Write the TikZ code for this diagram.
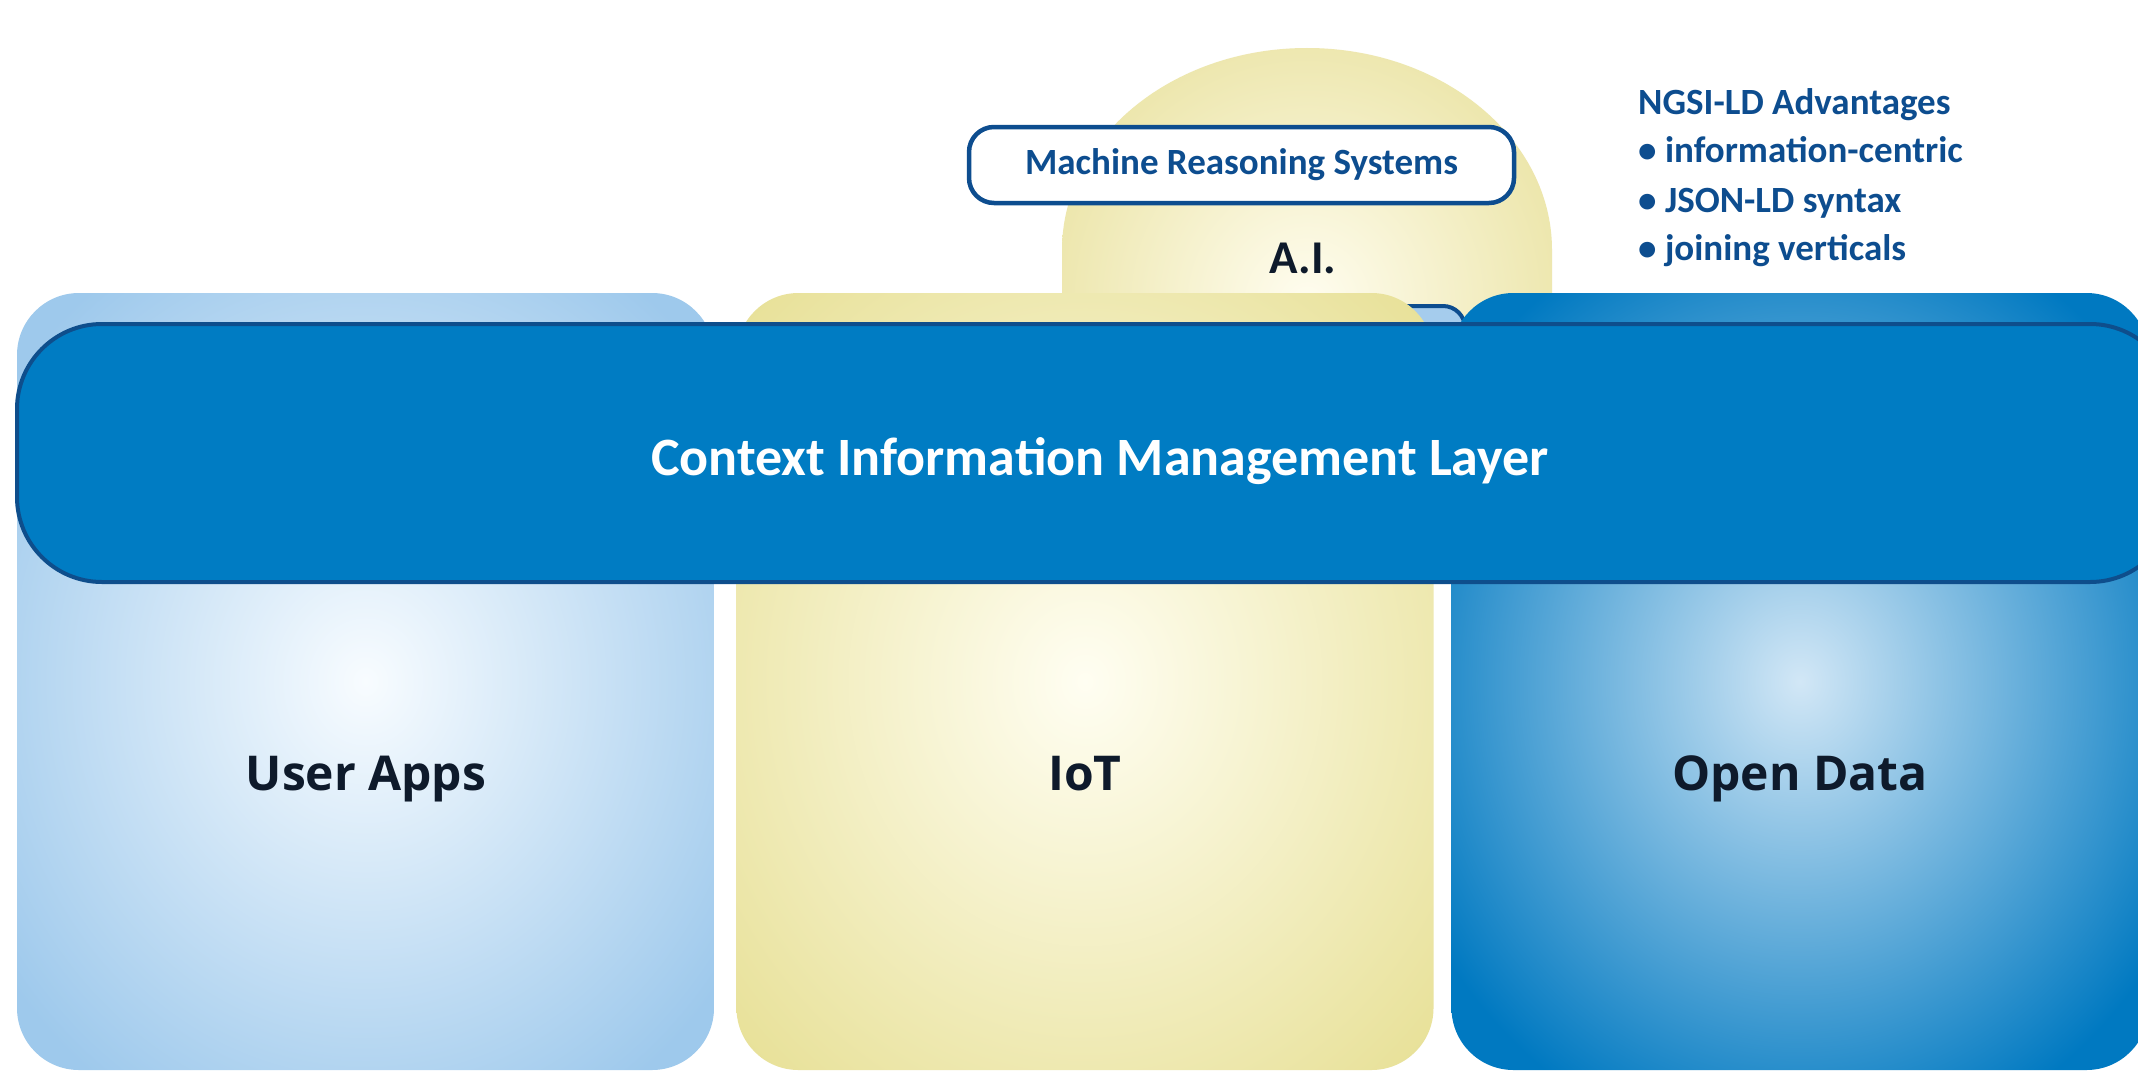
\documentclass[tikz,border=0pt]{standalone}
\usepackage{fontspec}
\setmainfont{Carlito}
\newfontfamily\labfont{Open Sans}
\definecolor{lbEdge}{RGB}{158,201,236}
\definecolor{lbMid}{RGB}{248,252,255}
\definecolor{yEdge}{RGB}{232,225,153}
\definecolor{yMid}{RGB}{255,254,242}
\definecolor{eggEdge}{RGB}{230,222,148}
\definecolor{eggMid}{RGB}{255,253,240}
\definecolor{rbEdge}{RGB}{0,121,193}
\definecolor{rbMid}{RGB}{210,231,246}
\definecolor{layerFill}{RGB}{0,124,195}
\definecolor{layerLine}{RGB}{14,78,140}
\definecolor{txtBlue}{RGB}{13,77,143}
\definecolor{txtNavy}{RGB}{14,26,43}
\definecolor{tabFill}{RGB}{165,204,237}
\pgfdeclareradialshading{shLB}{\pgfpointorigin}{color(0bp)=(lbMid); color(32bp)=(lbEdge); color(75bp)=(lbEdge)}
\pgfdeclareradialshading{shY}{\pgfpointorigin}{color(0bp)=(yMid); color(34bp)=(yEdge); color(75bp)=(yEdge)}
\pgfdeclareradialshading{shRB}{\pgfpointorigin}{color(0bp)=(rbMid); color(31bp)=(rbEdge); color(75bp)=(rbEdge)}
\pgfdeclareradialshading{shEgg}{\pgfpointorigin}{color(0bp)=(eggMid); color(36bp)=(eggEdge); color(75bp)=(eggEdge)}
\tikzset{
  bigbox/.style={rectangle, rounded corners=62pt, minimum width=697pt, minimum height=777pt, inner sep=0pt, draw=none},
  lbl/.style={font=\labfont\bfseries\fontsize{48}{56}\selectfont, text=txtNavy, inner sep=0pt},
  layerbox/.style={rectangle, rounded corners=85pt, minimum width=2158pt, minimum height=258pt, inner sep=0pt,
    fill=layerFill, draw=layerLine, line width=4pt},
  layertext/.style={text=white, inner sep=0pt, font=\bfseries\fontsize{54}{62}\selectfont},
  mrsbox/.style={rectangle, rounded corners=25pt, minimum width=545pt, minimum height=76pt, inner sep=0pt,
    fill=white, draw=txtBlue, line width=4.5pt, text=txtBlue, font=\bfseries\fontsize{37}{44}\selectfont},
  tabbox/.style={rectangle, rounded corners=22pt, minimum width=215pt, minimum height=114pt, inner sep=0pt,
    fill=tabFill, draw=txtBlue, line width=4pt},
  adv/.style={anchor=base west, inner sep=0pt, text=txtBlue, font=\bfseries\fontsize{37}{44}\selectfont},
}
\begin{document}
\begin{tikzpicture}[x=1pt,y=-1pt]
\useasboundingbox (0,0) rectangle (2138,1073);
\fill[white] (0,0) rectangle (2138,1073);
% A.I. egg
\path[shading=shEgg] (1062,560) -- (1062,250) arc (180:360:245 and 202) -- (1552,560) -- cycle;
\node[mrsbox] (mrs) at (1241.5,165) {Machine Reasoning Systems};
\node[font=\bfseries\fontsize{47}{54}\selectfont, text=txtNavy, anchor=base, inner sep=0pt] (ai) at (1303,273) {A.I.};
% tab behind
\node[tabbox] (tab) at (1357.5,363) {};
% three columns
\node[bigbox, shading=shLB] (apps) at (365.5,681.5) {};
\node[bigbox, shading=shY] (iot) at (1085,681.5) {};
\node[bigbox, shading=shRB] (open) at (1800,681.5) {};
% layer
\node[layerbox] (layer) at (1096,453) {};
\node[layertext, anchor=base] (layertxt) at (1100,475) {Context Information Management Layer};
% labels
\node[lbl, anchor=base] (lapps) at (366,790) {User Apps};
\node[lbl, anchor=base] (liot) at (1085,790) {IoT};
\node[lbl, anchor=base] (lopen) at (1800,790) {Open Data};
% advantages
\node[adv] (a0) at (1638,114) {NGSI-LD Advantages};
\node[adv] (a1) at (1638,162) {• information-centric};
\node[adv] (a2) at (1638,212) {• JSON-LD syntax};
\node[adv] (a3) at (1638,260) {• joining verticals};
\end{tikzpicture}
\end{document}
